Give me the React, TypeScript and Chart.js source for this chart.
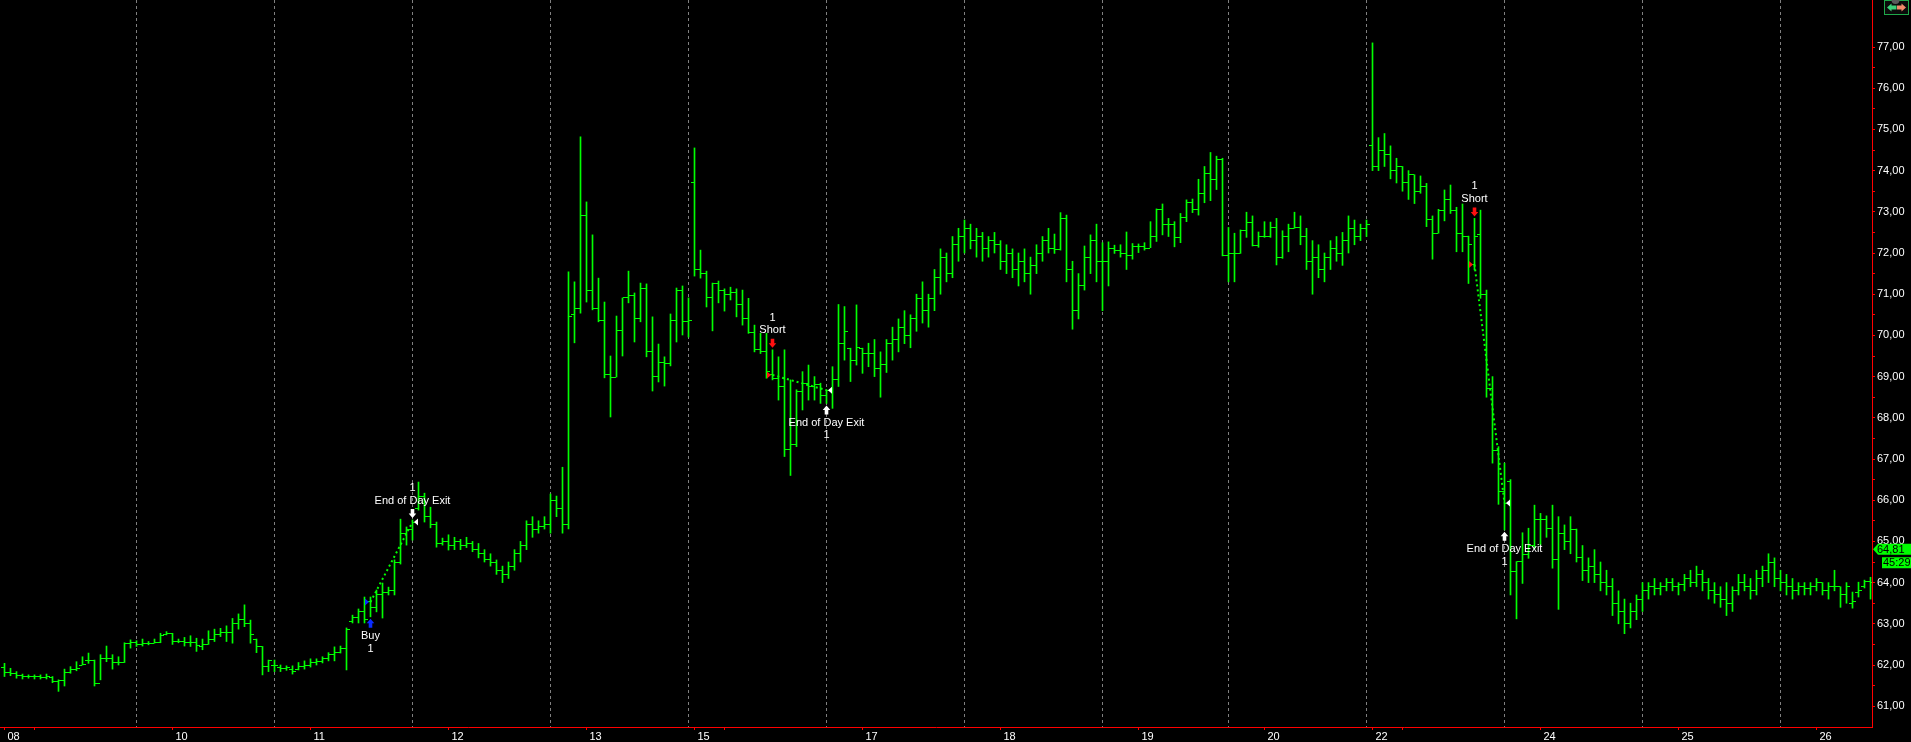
import React, { useEffect, useRef } from 'react';
import { Chart, registerables } from 'chart.js';

Chart.register(...registerables);

// ---------- data ----------
const opens = [
  61.95, 61.83, 61.80, 61.75, 61.72, 61.72, 61.72, 61.70, 61.70, 61.60,
  61.62, 61.82, 61.90, 62.00, 62.10, 62.10, 61.56, 62.15, 62.15, 62.06,
  62.05, 62.53, 62.55, 62.50, 62.53, 62.53, 62.55, 62.74, 62.76, 62.57,
  62.58, 62.55, 62.55, 62.45, 62.50, 62.63, 62.75, 62.78, 62.80, 63.01,
  63.10, 63.00, 62.62, 62.45, 61.96, 62.00, 61.95, 61.92, 61.90, 61.90,
  61.97, 62.00, 62.05, 62.08, 62.15, 62.25, 62.30, 62.40, 63.05, 63.15,
  63.30, 63.53, 63.40, 63.70, 63.75, 63.80, 64.50, 65.20, 65.30, 65.80,
  66.10, 65.60, 65.40, 64.95, 65.00, 64.90, 65.00, 64.90, 64.95, 64.80,
  64.70, 64.55, 64.50, 64.30, 64.20, 64.40, 64.70, 64.90, 65.40, 65.30,
  65.35, 65.40, 66.00, 65.80, 65.40, 70.50, 70.66, 72.92, 71.10, 70.66,
  70.37, 69.04, 68.99, 70.11, 70.91, 70.98, 70.42, 71.15, 69.62, 69.01,
  69.35, 69.31, 70.35, 71.10, 70.33, 73.72, 71.59, 71.51, 70.93, 71.25,
  71.08, 71.00, 71.05, 70.74, 70.40, 70.06, 69.65, 69.62, 69.04, 68.95,
  68.75, 67.22, 67.34, 68.65, 68.84, 68.76, 68.80, 68.55, 68.67, 68.92,
  69.80, 69.69, 69.40, 69.69, 69.55, 69.57, 69.20, 69.30, 69.80, 69.90,
  70.20, 70.00, 70.40, 70.90, 70.60, 70.90, 71.40, 71.90, 71.50, 72.20,
  72.40, 72.60, 72.30, 72.40, 72.10, 72.30, 72.20, 71.80, 72.00, 71.60,
  71.80, 71.50, 71.70, 72.00, 72.30, 72.10, 72.09, 72.84, 71.60, 70.60,
  71.20, 71.90, 72.30, 71.80, 71.80, 72.10, 72.05, 72.00, 71.95, 72.15,
  72.15, 72.10, 72.40, 73.06, 72.68, 72.68, 72.38, 72.86, 73.23, 73.06,
  73.45, 73.92, 73.79, 74.28, 71.95, 72.00, 72.00, 72.54, 72.74, 72.19,
  72.40, 72.40, 72.62, 71.90, 72.40, 72.60, 72.63, 72.40, 71.80, 71.90,
  71.60, 71.90, 72.10, 72.00, 72.30, 72.60, 72.40, 72.60, 74.60, 74.10,
  74.50, 74.40, 74.00, 74.10, 73.70, 73.90, 73.50, 73.61, 72.82, 72.48,
  73.04, 73.30, 73.04, 72.48, 72.41, 71.72, 72.44, 71.00, 68.70, 67.20,
  66.20, 66.45, 64.26, 64.51, 64.67, 64.90, 65.53, 65.53, 65.31, 64.55,
  65.20, 65.00, 65.30, 64.60, 64.30, 64.40, 64.20, 64.00, 63.90, 63.50,
  63.30, 63.00, 63.30, 63.60, 63.80, 63.90, 63.85, 63.90, 64.00, 63.90,
  63.95, 64.10, 64.00, 64.20, 64.00, 63.80, 63.70, 63.60, 63.50, 63.80,
  64.00, 63.90, 63.80, 64.10, 64.30, 64.50, 64.10, 64.00, 63.90, 63.80,
  63.90, 63.85, 63.90, 64.00, 63.80, 63.90, 63.90, 63.70, 63.50, 63.75,
  63.90, 64.02,
];
const highs = [
  62.04, 61.92, 61.84, 61.78, 61.76, 61.76, 61.76, 61.78, 61.72, 61.64,
  61.90, 61.96, 62.08, 62.20, 62.29, 62.12, 62.25, 62.46, 62.25, 62.20,
  62.54, 62.61, 62.59, 62.63, 62.57, 62.63, 62.77, 62.81, 62.77, 62.63,
  62.67, 62.71, 62.65, 62.63, 62.83, 62.87, 62.89, 62.95, 63.13, 63.24,
  63.46, 63.09, 62.63, 62.45, 62.12, 62.12, 62.00, 61.98, 61.98, 62.06,
  62.10, 62.15, 62.15, 62.20, 62.30, 62.44, 62.46, 62.90, 63.21, 63.36,
  63.65, 63.65, 63.82, 63.99, 63.89, 64.55, 65.54, 65.35, 65.52, 66.44,
  66.17, 65.83, 65.47, 65.08, 65.16, 65.10, 65.05, 65.10, 65.00, 64.95,
  64.80, 64.70, 64.55, 64.40, 64.50, 64.80, 65.00, 65.50, 65.60, 65.50,
  65.60, 66.15, 66.10, 66.80, 71.54, 71.30, 74.82, 73.24, 72.44, 71.39,
  70.81, 69.50, 70.47, 70.91, 71.56, 71.03, 71.27, 71.25, 70.45, 69.79,
  69.48, 70.52, 71.15, 71.20, 70.91, 74.55, 72.07, 71.56, 71.27, 71.32,
  71.13, 71.17, 71.13, 71.10, 70.90, 70.25, 70.05, 70.05, 69.65, 69.48,
  69.65, 68.92, 68.68, 69.12, 69.28, 69.00, 68.84, 68.68, 69.24, 70.75,
  70.70, 69.69, 70.74, 69.69, 69.81, 69.90, 69.60, 69.90, 70.20, 70.40,
  70.60, 70.50, 71.00, 71.30, 71.00, 71.60, 72.10, 72.00, 72.40, 72.60,
  72.80, 72.70, 72.60, 72.50, 72.40, 72.50, 72.30, 72.20, 72.10, 72.00,
  72.10, 71.90, 72.20, 72.40, 72.60, 72.46, 72.98, 72.92, 71.80, 71.50,
  72.17, 72.44, 72.70, 72.25, 72.27, 72.19, 72.20, 72.51, 72.23, 72.22,
  72.25, 72.76, 73.07, 73.19, 72.84, 72.76, 72.96, 73.29, 73.31, 73.79,
  74.10, 74.44, 74.35, 74.30, 72.62, 72.48, 72.56, 72.99, 72.90, 72.51,
  72.76, 72.75, 72.84, 72.54, 72.70, 72.99, 72.90, 72.60, 72.30, 72.20,
  72.00, 72.30, 72.40, 72.50, 72.90, 72.80, 72.70, 72.80, 77.10, 74.80,
  74.90, 74.60, 74.30, 74.10, 74.00, 73.90, 73.87, 73.69, 72.90, 73.06,
  73.53, 73.65, 73.11, 73.19, 72.41, 72.84, 73.04, 71.10, 69.00, 67.30,
  66.90, 66.50, 64.51, 65.21, 65.32, 65.88, 65.68, 65.62, 65.88, 65.60,
  65.40, 65.60, 65.30, 64.90, 64.60, 64.80, 64.50, 64.30, 64.10, 63.80,
  63.60, 63.50, 63.70, 64.00, 64.00, 64.10, 64.00, 64.10, 64.10, 64.00,
  64.20, 64.30, 64.40, 64.30, 64.10, 64.00, 63.90, 64.00, 63.90, 64.20,
  64.20, 64.10, 64.30, 64.40, 64.70, 64.60, 64.30, 64.20, 64.10, 64.00,
  64.00, 64.00, 64.10, 64.00, 64.00, 64.30, 63.90, 64.00, 63.77, 64.01,
  64.06, 64.13,
];
const lows = [
  61.72, 61.74, 61.68, 61.66, 61.68, 61.66, 61.66, 61.66, 61.57, 61.36,
  61.49, 61.80, 61.86, 62.00, 62.04, 61.49, 61.64, 62.08, 61.90, 62.00,
  62.06, 62.41, 62.45, 62.46, 62.49, 62.53, 62.54, 62.73, 62.50, 62.54,
  62.46, 62.45, 62.33, 62.37, 62.50, 62.57, 62.69, 62.57, 62.53, 62.87,
  62.93, 62.53, 62.30, 61.76, 61.84, 61.84, 61.84, 61.87, 61.78, 61.88,
  61.90, 61.95, 62.00, 62.05, 62.10, 62.10, 62.29, 61.88, 63.02, 63.02,
  63.02, 63.17, 63.29, 63.14, 63.70, 63.70, 64.45, 64.91, 65.03, 65.76,
  65.47, 65.33, 64.86, 64.91, 64.79, 64.80, 64.80, 64.85, 64.75, 64.60,
  64.50, 64.40, 64.20, 64.00, 64.10, 64.30, 64.50, 64.80, 65.10, 65.20,
  65.30, 65.20, 65.60, 65.20, 65.30, 69.82, 70.54, 70.81, 70.62, 70.33,
  68.97, 68.02, 68.99, 69.50, 70.79, 69.84, 70.33, 69.48, 68.65, 68.87,
  68.77, 69.26, 69.84, 70.01, 69.96, 71.44, 71.39, 70.69, 70.11, 70.79,
  70.59, 70.86, 70.45, 70.25, 70.05, 69.60, 69.56, 68.96, 68.92, 68.43,
  67.06, 66.60, 67.30, 68.19, 68.43, 68.43, 68.35, 68.35, 68.23, 68.76,
  69.40, 68.88, 69.28, 69.08, 69.24, 69.00, 68.50, 69.10, 69.40, 69.60,
  69.80, 69.70, 70.10, 70.30, 70.20, 70.60, 71.00, 71.30, 71.40, 71.80,
  72.00, 72.10, 71.90, 71.80, 71.90, 72.00, 71.60, 71.50, 71.40, 71.20,
  71.30, 71.00, 71.50, 71.80, 72.00, 71.99, 72.07, 71.30, 70.15, 70.40,
  71.10, 71.50, 71.30, 70.60, 71.20, 71.99, 71.90, 71.60, 71.85, 72.01,
  72.07, 72.13, 72.28, 72.44, 72.40, 72.15, 72.25, 72.76, 72.98, 72.92,
  73.22, 73.27, 73.54, 71.93, 71.30, 71.30, 71.99, 72.38, 72.17, 72.14,
  72.38, 72.38, 71.71, 71.87, 72.03, 72.60, 72.20, 71.60, 71.00, 71.40,
  71.30, 71.60, 71.80, 71.70, 72.00, 72.20, 72.30, 72.40, 74.00, 74.00,
  74.10, 73.80, 73.70, 73.50, 73.30, 73.20, 73.45, 72.64, 71.85, 72.48,
  72.78, 72.96, 72.03, 72.03, 71.26, 71.59, 70.90, 68.50, 66.90, 65.90,
  65.28, 63.70, 63.12, 63.98, 64.59, 64.83, 64.91, 65.10, 64.35, 63.35,
  64.80, 64.70, 64.50, 64.05, 64.00, 64.00, 63.80, 63.70, 63.20, 63.00,
  62.76, 62.90, 63.10, 63.30, 63.60, 63.70, 63.70, 63.80, 63.80, 63.70,
  63.80, 63.90, 63.90, 63.80, 63.60, 63.50, 63.40, 63.20, 63.30, 63.70,
  63.80, 63.60, 63.70, 63.90, 64.00, 63.90, 63.80, 63.70, 63.60, 63.70,
  63.70, 63.70, 63.80, 63.70, 63.60, 63.80, 63.40, 63.50, 63.38, 63.65,
  63.87, 63.60,
];
const closes = [
  61.83, 61.80, 61.75, 61.72, 61.72, 61.72, 61.70, 61.72, 61.60, 61.62,
  61.82, 61.90, 61.92, 62.02, 62.10, 61.56, 62.15, 62.15, 62.06, 62.05,
  62.53, 62.55, 62.50, 62.53, 62.53, 62.55, 62.72, 62.76, 62.56, 62.58,
  62.55, 62.55, 62.48, 62.50, 62.63, 62.75, 62.78, 62.78, 63.01, 63.10,
  63.00, 62.75, 62.45, 61.96, 62.10, 62.00, 61.92, 61.95, 61.85, 61.97,
  62.00, 62.05, 62.08, 62.15, 62.25, 62.30, 62.40, 62.85, 63.15, 63.30,
  63.10, 63.40, 63.70, 63.75, 63.80, 64.50, 65.20, 65.30, 65.47, 66.10,
  65.60, 65.40, 64.95, 65.00, 64.90, 65.00, 64.90, 64.95, 64.80, 64.70,
  64.55, 64.50, 64.30, 64.20, 64.40, 64.70, 64.90, 65.40, 65.30, 65.35,
  65.40, 66.00, 65.80, 65.40, 70.47, 70.66, 72.92, 71.10, 70.66, 70.37,
  69.04, 68.99, 70.11, 70.91, 70.98, 70.42, 71.15, 69.62, 69.01, 69.35,
  69.31, 70.35, 71.10, 70.33, 70.35, 71.59, 71.51, 70.93, 71.25, 71.08,
  71.00, 71.05, 70.74, 70.40, 70.06, 69.65, 69.62, 69.12, 68.95, 68.75,
  67.22, 67.34, 68.65, 68.84, 68.76, 68.80, 68.55, 68.67, 68.92, 69.80,
  70.10, 69.40, 69.70, 69.55, 69.57, 69.20, 69.30, 69.80, 69.90, 70.20,
  70.00, 70.40, 70.90, 70.60, 70.90, 71.40, 71.90, 71.50, 72.20, 72.40,
  72.60, 72.30, 72.40, 72.10, 72.30, 72.20, 71.80, 72.00, 71.60, 71.80,
  71.50, 71.70, 72.00, 72.30, 72.10, 72.09, 72.84, 71.60, 70.60, 71.20,
  71.90, 72.30, 71.80, 71.80, 72.10, 72.05, 72.00, 71.95, 72.15, 72.15,
  72.10, 72.40, 73.06, 72.68, 72.68, 72.38, 72.86, 73.23, 73.06, 73.45,
  73.92, 73.79, 74.28, 71.95, 72.00, 72.00, 72.54, 72.74, 72.19, 72.40,
  72.40, 72.62, 71.90, 72.40, 72.60, 72.63, 72.40, 71.80, 71.90, 71.60,
  71.90, 72.10, 72.00, 72.30, 72.60, 72.40, 72.60, 72.70, 74.10, 74.50,
  74.40, 74.00, 74.10, 73.70, 73.90, 73.50, 73.61, 72.82, 72.48, 73.04,
  73.30, 73.04, 72.48, 72.40, 72.20, 72.40, 71.00, 68.70, 67.20, 66.20,
  65.93, 64.26, 64.51, 64.67, 64.90, 65.53, 65.53, 65.31, 64.55, 65.20,
  65.00, 65.30, 64.60, 64.30, 64.40, 64.20, 64.00, 63.90, 63.50, 63.30,
  63.00, 63.30, 63.60, 63.80, 63.90, 63.85, 63.90, 64.00, 63.90, 63.95,
  64.10, 64.00, 64.20, 64.00, 63.80, 63.70, 63.60, 63.50, 63.80, 64.00,
  63.90, 63.80, 64.10, 64.30, 64.50, 64.10, 64.00, 63.90, 63.80, 63.90,
  63.85, 63.90, 64.00, 63.80, 63.90, 63.90, 63.70, 63.90, 63.55, 63.82,
  64.02, 64.00,
];

// bar indices where a trading session ends (dotted separators)
const sessionBreaks = [22, 45, 68, 91, 114, 137, 160, 183, 204, 227, 250, 273, 296];
// x axis ticks (bar index) and their labels
const xTickBars = [0, 5, 28, 51, 74, 97, 115, 120, 143, 166, 189, 210, 228, 233, 256, 279, 302];
const xTickLabels = ['08', '', '10', '11', '12', '13', '15', '', '17', '18', '19', '20', '22', '', '24', '25', '26'];

// trades
const tradeSides = ['Buy', 'Short', 'Short'];
const tradeQty = ['1', '1', '1'];
const tradeEntryBars = [61, 128, 245];
const tradeEntryPrices = [63.53, 69.04, 71.72];
const tradeExitBars = [68, 137, 250];
const tradeExitPrices = [65.47, 68.67, 65.93];
const exitLabel = 'End of Day Exit';

// right-edge price labels
const lastPrice = 64.81;
const lastPriceText = '64,81';
const timerText = '45:29';

const GREEN = '#00ff00';
const RED = '#ff0000';
const FONT = '"Liberation Sans", Arial, sans-serif';

export default function App() {
  const ref = useRef<HTMLCanvasElement | null>(null);

  useEffect(() => {
    document.body.style.margin = '0';
    document.body.style.background = '#000';
    const canvas = ref.current;
    if (!canvas) return;

    const mkTick = (cols: number[]) => {
      const c = document.createElement('canvas');
      c.width = 7;
      c.height = 1;
      const g = c.getContext('2d')!;
      g.fillStyle = GREEN;
      cols.forEach((k) => g.fillRect(k, 0, 1, 1));
      return c;
    };
    const openImg = mkTick([0, 1, 2]);
    const closeImg = mkTick([4, 5, 6]);

    const rangeData = highs.map((h, i) => ({ x: i, y: [lows[i], h] }));
    const openPts = opens.map((o, i) => ({ x: i, y: o }));
    const closePts = closes.map((c, i) => ({ x: i, y: c }));

    const tradeLines = tradeEntryBars.map((eb, t) => ({
      type: 'line',
      data: [
        { x: eb, y: tradeEntryPrices[t] },
        { x: tradeExitBars[t], y: tradeExitPrices[t] },
      ],
      borderColor: GREEN,
      borderWidth: 2,
      borderDash: [2, 3],
      pointRadius: 0,
      pointHoverRadius: 0,
      fill: false,
      order: 0,
    }));

    const bgPlugin = {
      id: 'bg',
      beforeDraw(chart: any) {
        const { ctx, width, height } = chart;
        ctx.save();
        ctx.fillStyle = '#000';
        ctx.fillRect(0, 0, width, height);
        ctx.restore();
      },
      beforeDatasetsDraw(chart: any) {
        const { ctx, chartArea, scales } = chart;
        ctx.save();
        ctx.strokeStyle = '#808080';
        ctx.lineWidth = 1;
        ctx.setLineDash([3, 3]);
        sessionBreaks.forEach((b) => {
          const px = Math.floor(scales.x.getPixelForValue(b)) + 0.5;
          ctx.beginPath();
          ctx.moveTo(px, chartArea.top);
          ctx.lineTo(px, chartArea.bottom);
          ctx.stroke();
        });
        ctx.restore();
      },
    };

    const arrow = (ctx: any, cx: number, tipY: number, s: number, color: string) => {
      ctx.fillStyle = color;
      ctx.beginPath();
      ctx.moveTo(cx, tipY);
      ctx.lineTo(cx + 3.8, tipY + 4.5 * s);
      ctx.lineTo(cx + 1.8, tipY + 4.5 * s);
      ctx.lineTo(cx + 1.8, tipY + 9 * s);
      ctx.lineTo(cx - 1.8, tipY + 9 * s);
      ctx.lineTo(cx - 1.8, tipY + 4.5 * s);
      ctx.lineTo(cx - 3.8, tipY + 4.5 * s);
      ctx.closePath();
      ctx.fill();
    };

    const markersPlugin = {
      id: 'markers',
      afterDatasetsDraw(chart: any) {
        const { ctx, scales } = chart;
        const xs = scales.x;
        const ys = scales.y;
        ctx.save();
        ctx.font = `11px ${FONT}`;
        ctx.textAlign = 'center';
        ctx.textBaseline = 'middle';
        for (let t = 0; t < tradeEntryBars.length; t++) {
          const isLong = tradeSides[t] === 'Buy';
          const eb = tradeEntryBars[t];
          const xb = tradeExitBars[t];
          const ecx = xs.getPixelForValue(eb);
          const xcx = xs.getPixelForValue(xb);
          const ebx = Math.floor(ecx);
          const xbx = Math.floor(xcx);
          const epy = ys.getPixelForValue(tradeEntryPrices[t]);
          const xpy = ys.getPixelForValue(tradeExitPrices[t]);
          const entryColor = isLong ? '#0a2cff' : '#ff1010';

          // entry triangle (points right, left of bar)
          ctx.fillStyle = entryColor;
          ctx.beginPath();
          ctx.moveTo(ebx - 5, epy - 3.5);
          ctx.lineTo(ebx - 1, epy);
          ctx.lineTo(ebx - 5, epy + 3.5);
          ctx.closePath();
          ctx.fill();
          // exit triangle (points left, right of bar)
          ctx.fillStyle = '#ffffff';
          ctx.beginPath();
          ctx.moveTo(xbx + 6, xpy - 3.5);
          ctx.lineTo(xbx + 2, xpy);
          ctx.lineTo(xbx + 6, xpy + 3.5);
          ctx.closePath();
          ctx.fill();

          if (isLong) {
            const yl = ys.getPixelForValue(lows[eb]);
            arrow(ctx, ecx, yl + 2, 1, entryColor);
            ctx.fillStyle = '#ffffff';
            ctx.fillText(tradeSides[t], ecx, yl + 19.5);
            ctx.fillText(tradeQty[t], ecx, yl + 32);
            const yh = ys.getPixelForValue(highs[xb]);
            arrow(ctx, xcx, yh - 2, -1, '#ffffff');
            ctx.fillStyle = '#ffffff';
            ctx.fillText(exitLabel, xcx, yh - 19.5);
            ctx.fillText(tradeQty[t], xcx, yh - 32);
          } else {
            const yh = ys.getPixelForValue(highs[eb]);
            arrow(ctx, ecx, yh - 2, -1, entryColor);
            ctx.fillStyle = '#ffffff';
            ctx.fillText(tradeSides[t], ecx, yh - 19.5);
            ctx.fillText(tradeQty[t], ecx, yh - 32);
            const yl = ys.getPixelForValue(lows[xb]);
            arrow(ctx, xcx, yl + 2, 1, '#ffffff');
            ctx.fillStyle = '#ffffff';
            ctx.fillText(exitLabel, xcx, yl + 19.5);
            ctx.fillText(tradeQty[t], xcx, yl + 32);
          }
        }
        ctx.restore();
      },
    };

    const overlayPlugin = {
      id: 'overlay',
      afterDraw(chart: any) {
        const { ctx, scales, width } = chart;
        const ys = scales.y;
        const ax = ys.left;
        ctx.save();
        // last price flag
        const py = ys.getPixelForValue(lastPrice);
        ctx.fillStyle = GREEN;
        ctx.beginPath();
        ctx.moveTo(ax + 1, py);
        ctx.lineTo(ax + 6, py - 5.5);
        ctx.lineTo(width, py - 5.5);
        ctx.lineTo(width, py + 5.5);
        ctx.lineTo(ax + 6, py + 5.5);
        ctx.closePath();
        ctx.fill();
        ctx.fillRect(ax + 10, py + 8, width - ax - 10, 11);
        ctx.fillStyle = '#000';
        ctx.font = `11px ${FONT}`;
        ctx.textAlign = 'left';
        ctx.textBaseline = 'middle';
        ctx.fillText(lastPriceText, ax + 5, py + 0.5);
        ctx.fillText(timerText, ax + 11, py + 13.5);

        // small navigation icon in the top-right corner
        const bx = ax + 12.5;
        ctx.fillStyle = '#0b0b0b';
        ctx.fillRect(bx, 0, 24, 14);
        ctx.strokeStyle = '#1fa84a';
        ctx.lineWidth = 1;
        ctx.strokeRect(bx, 0.5, 24, 14);
        ctx.fillStyle = '#5a5a5a';
        ctx.beginPath();
        ctx.arc(bx + 11, 0, 4, 0, Math.PI);
        ctx.fill();
        ctx.fillStyle = '#3ccf78';
        ctx.beginPath();
        ctx.moveTo(bx + 2.5, 7.5);
        ctx.lineTo(bx + 7, 3.5);
        ctx.lineTo(bx + 7, 5.5);
        ctx.lineTo(bx + 12, 5.5);
        ctx.lineTo(bx + 12, 9.5);
        ctx.lineTo(bx + 7, 9.5);
        ctx.lineTo(bx + 7, 11.5);
        ctx.closePath();
        ctx.fill();
        ctx.fillStyle = '#f08a6a';
        ctx.beginPath();
        ctx.moveTo(bx + 21.5, 7.5);
        ctx.lineTo(bx + 17, 3.5);
        ctx.lineTo(bx + 17, 5.5);
        ctx.lineTo(bx + 12.5, 5.5);
        ctx.lineTo(bx + 12.5, 9.5);
        ctx.lineTo(bx + 17, 9.5);
        ctx.lineTo(bx + 17, 11.5);
        ctx.closePath();
        ctx.fill();
        ctx.restore();
      },
    };

    const chart = new Chart(canvas, {
      type: 'bar',
      data: {
        datasets: [
          {
            type: 'bar',
            data: rangeData as any,
            backgroundColor: GREEN,
            barThickness: 1,
            borderWidth: 0,
            order: 3,
          } as any,
          {
            type: 'scatter',
            data: openPts,
            pointStyle: openImg as any,
            pointRadius: 1,
            pointHoverRadius: 1,
            pointBorderWidth: 0,
            order: 2,
          } as any,
          {
            type: 'scatter',
            data: closePts,
            pointStyle: closeImg as any,
            pointRadius: 1,
            pointHoverRadius: 1,
            pointBorderWidth: 0,
            order: 2,
          } as any,
          ...(tradeLines as any[]),
        ],
      },
      options: {
        responsive: false,
        maintainAspectRatio: false,
        animation: false,
        devicePixelRatio: 1,
        events: [],
        layout: { padding: 0, autoPadding: false },
        plugins: {
          legend: { display: false },
          tooltip: { enabled: false },
        },
        scales: {
          x: {
            type: 'linear',
            position: 'bottom',
            min: -0.75,
            max: 311.25,
            offset: false,
            afterBuildTicks: (s: any) => {
              s.ticks = xTickBars.map((v) => ({ value: v }));
            },
            afterFit: (s: any) => {
              s.height = 15;
              s.paddingLeft = 0;
              s.paddingRight = 0;
            },
            grid: {
              display: true,
              offset: false,
              drawOnChartArea: false,
              drawTicks: true,
              tickLength: 3,
              color: RED,
            },
            border: { display: true, color: RED, width: 1 },
            ticks: {
              color: '#ffffff',
              font: { family: FONT, size: 11 },
              align: 'start',
              labelOffset: 3,
              padding: 0,
              maxRotation: 0,
              minRotation: 0,
              autoSkip: false,
              callback: (v: any) => {
                const k = xTickBars.indexOf(Number(v));
                return k >= 0 ? xTickLabels[k] : '';
              },
            },
          },
          y: {
            type: 'linear',
            position: 'right',
            min: 60.4952,
            max: 78.1408,
            afterBuildTicks: (s: any) => {
              const t: any[] = [];
              for (let k = 122; k <= 154; k++) t.push({ value: k / 2 });
              s.ticks = t;
            },
            afterFit: (s: any) => {
              s.width = 39;
              s.paddingTop = 0;
              s.paddingBottom = 0;
            },
            grid: {
              display: true,
              drawOnChartArea: false,
              drawTicks: true,
              tickLength: 3,
              color: RED,
            },
            border: { display: true, color: RED, width: 1 },
            ticks: {
              color: '#ffffff',
              font: { family: FONT, size: 11 },
              padding: 2,
              autoSkip: false,
              callback: (v: any) =>
                Number.isInteger(v) ? Number(v).toFixed(2).replace('.', ',') : '',
            },
          },
        },
      } as any,
      plugins: [bgPlugin, markersPlugin, overlayPlugin],
    });

    return () => chart.destroy();
  }, []);

  return (
    <canvas
      ref={ref}
      width={1911}
      height={742}
      style={{ display: 'block', width: '1911px', height: '742px', background: '#000' }}
    />
  );
}
